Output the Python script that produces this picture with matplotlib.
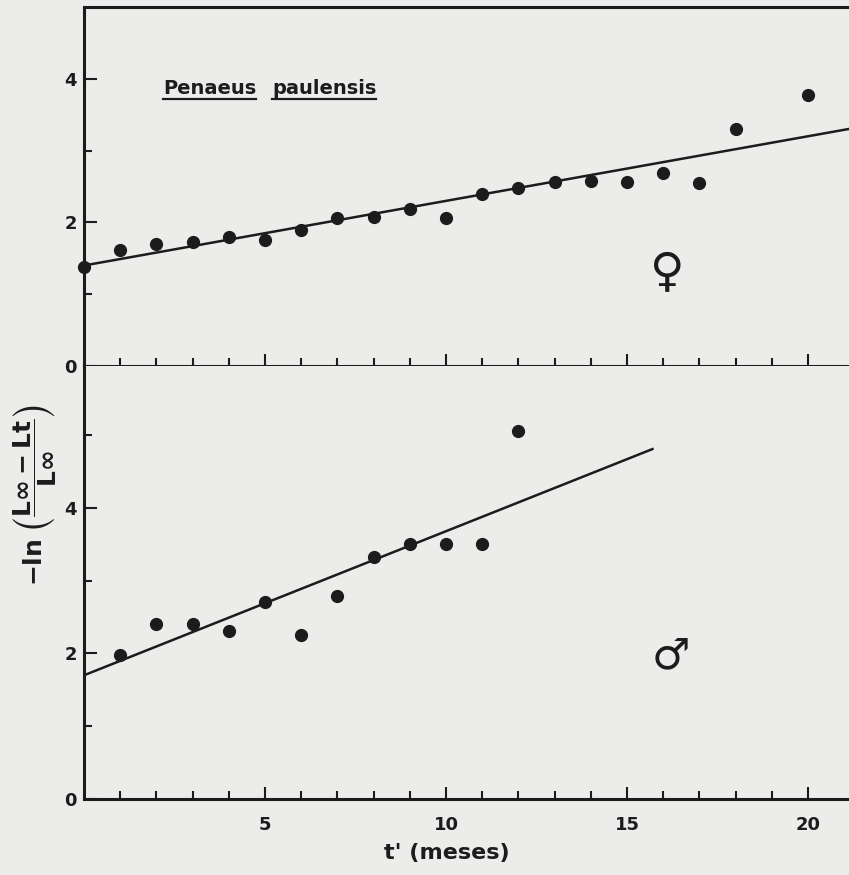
import matplotlib
matplotlib.use("Agg")
import matplotlib.pyplot as plt
from matplotlib.ticker import FixedLocator
from matplotlib.lines import Line2D

plt.rcParams['font.family'] = ['DejaVu Sans']
plt.rcParams['font.weight'] = 'bold'
plt.rcParams['mathtext.fontset'] = 'dejavusans'

# Penaeus paulensis - femeas
t_femea = [0, 1, 2, 3, 4, 5, 6, 7, 8, 9, 10, 11, 12, 13, 14, 15, 16, 17, 18, 20]
y_femea = [1.38, 1.61, 1.70, 1.73, 1.80, 1.76, 1.90, 2.06, 2.07, 2.18,
           2.06, 2.40, 2.48, 2.56, 2.57, 2.56, 2.69, 2.55, 3.30, 3.77]

# machos
t_macho = [1, 2, 3, 4, 5, 6, 7, 8, 9, 10, 11, 12]
y_macho = [1.98, 2.40, 2.40, 2.31, 2.71, 2.26, 2.79, 3.32, 3.50, 3.50, 3.50, 5.06]

# retas ajustadas: y = a + b t'
a_femea, b_femea = 1.40, 0.090
a_macho, b_macho = 1.70, 0.198
t_fim_macho = 15.7

meses = list(range(1, 21))
meses_rot = [5, 10, 15, 20]

fundo = '#ececea'
tinta = '#1c1c1c'

fig = plt.figure(figsize=(8.49, 8.75), dpi=100, facecolor=fundo)
ax_f = fig.add_axes([0.099, 0.5817, 0.901, 0.4103])
ax_m = fig.add_axes([0.099, 0.0869, 0.901, 0.4948])

for ax in (ax_f, ax_m):
    ax.set_facecolor(fundo)
    ax.set_xlim(0, 21.13)
    ax.spines['right'].set_visible(False)
    for s in ('left', 'bottom', 'top'):
        ax.spines[s].set_linewidth(2.2)
        ax.spines[s].set_color(tinta)
    ax.xaxis.set_major_locator(FixedLocator(meses_rot))
    ax.xaxis.set_minor_locator(FixedLocator([m for m in meses if m not in meses_rot]))
    ax.tick_params(which='major', direction='in', length=9, width=1.5,
                   colors=tinta, labelsize=13, top=False, right=False)
    ax.tick_params(which='minor', direction='in', length=5.5, width=1.5,
                   colors=tinta, top=False, right=False)
    ax.tick_params(axis='y', which='major', pad=5)
    ax.tick_params(axis='x', which='major', pad=12)

ax_m.spines['top'].set_visible(False)

ax_f.set_ylim(0, 5.0)
ax_f.yaxis.set_major_locator(FixedLocator([0, 2, 4]))
ax_f.yaxis.set_minor_locator(FixedLocator([1, 3]))
ax_f.tick_params(axis='x', labelbottom=False)

ax_m.set_ylim(0, 5.95)
ax_m.yaxis.set_major_locator(FixedLocator([0, 2, 4]))
ax_m.yaxis.set_minor_locator(FixedLocator([1, 3, 5]))

# pontos e retas
ax_f.plot(t_femea, y_femea, 'o', color=tinta, markersize=8.5, clip_on=False, zorder=3)
ax_f.axline((0, a_femea), slope=b_femea, color=tinta, linewidth=1.8)

ax_m.plot(t_macho, y_macho, 'o', color=tinta, markersize=8.5, clip_on=False, zorder=3)
ax_m.plot([0, t_fim_macho], [a_macho, a_macho + b_macho * t_fim_macho],
          color=tinta, linewidth=1.8)

# simbolos de sexo
ax_f.text(16.1, 1.28, '\u2640', fontsize=34, family='DejaVu Sans',
          fontweight='normal', ha='center', va='center', color=tinta)
ax_m.text(16.2, 1.94, '\u2642', fontsize=31, family='DejaVu Sans',
          fontweight='normal', ha='center', va='center', color=tinta)

# nome da especie, sublinhado
t1 = ax_f.text(2.18, 3.79, 'Penaeus', fontsize=14, color=tinta, va='baseline')
t2 = ax_f.text(5.19, 3.79, 'paulensis', fontsize=14, color=tinta, va='baseline')

fig.text(0.526, 0.025, "t' (meses)", fontsize=16, ha='center', va='center', color=tinta)
fig.text(0.041, 0.434,
         r'$\mathbf{-ln}\ \left(\dfrac{\mathbf{L\infty - Lt}}{\mathbf{L\infty}}\right)$',
         fontsize=18, rotation=90, ha='center', va='center', color=tinta)

fig.canvas.draw()
r = fig.canvas.get_renderer()
inv = fig.transFigure.inverted()
for t in (t1, t2):
    bb = t.get_window_extent(r)
    (x0, y0), (x1, _) = inv.transform([(bb.x0, bb.y0), (bb.x1, bb.y1)])
    fig.add_artist(Line2D([x0, x1], [y0 - 0.001, y0 - 0.001],
                          transform=fig.transFigure, color=tinta, linewidth=1.6))

fig.savefig('out.png', dpi=100, facecolor=fundo)
